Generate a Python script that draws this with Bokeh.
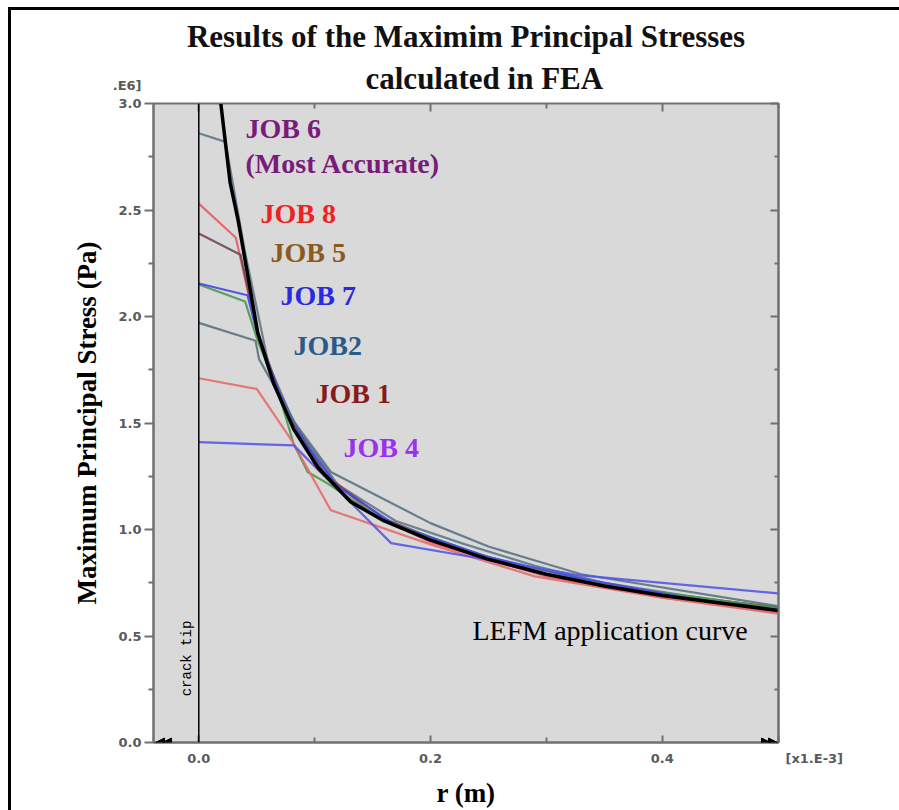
import math
from bokeh.plotting import figure
from bokeh.models import (Range1d, LinearAxis, FixedTicker, PrintfTickFormatter,
                          CustomJSTickFormatter, Label, Span, Arrow, NormalHead, Title)
from bokeh.embed import file_html
from bokeh.resources import INLINE

# ---------------- data (r in 1e-3 m, stress in 1e6 Pa) ----------------
lefm_r = [0.019, 0.027, 0.034, 0.043, 0.051, 0.065, 0.082, 0.103, 0.131, 0.16,
          0.20, 0.25, 0.30, 0.35, 0.40, 0.45, 0.50]
lefm_s = [3.00, 2.63, 2.45, 2.17, 1.92, 1.68, 1.47, 1.29, 1.13, 1.04,
          0.95, 0.86, 0.79, 0.735, 0.69, 0.655, 0.62]

job6_r = [0.0, 0.023, 0.040, 0.060, 0.083, 0.12, 0.17, 0.23, 0.29, 0.35, 0.42, 0.50]
job6_s = [2.86, 2.82, 2.30, 1.78, 1.49, 1.21, 1.04, 0.93, 0.83, 0.75, 0.69, 0.63]

job8_r = [0.0, 0.032, 0.050, 0.070, 0.100, 0.15, 0.20, 0.30, 0.40, 0.50]
job8_s = [2.53, 2.37, 1.93, 1.62, 1.31, 1.07, 0.94, 0.78, 0.68, 0.61]

job5_r = [0.0, 0.036, 0.050, 0.075, 0.110, 0.16, 0.22, 0.30, 0.40, 0.50]
job5_s = [2.39, 2.29, 1.94, 1.56, 1.25, 1.05, 0.92, 0.79, 0.695, 0.635]

job7_r = [0.0, 0.042, 0.050, 0.068, 0.090, 0.12, 0.17, 0.25, 0.33, 0.42, 0.50]
job7_s = [2.155, 2.10, 1.93, 1.66, 1.42, 1.20, 1.02, 0.87, 0.77, 0.68, 0.62]

job3_r = [0.0, 0.040, 0.050, 0.070, 0.082, 0.094, 0.11, 0.16, 0.25, 0.35, 0.50]
job3_s = [2.15, 2.07, 1.90, 1.62, 1.40, 1.27, 1.22, 1.04, 0.87, 0.74, 0.63]

job2_r = [0.0, 0.049, 0.052, 0.083, 0.114, 0.20, 0.25, 0.33, 0.50]
job2_s = [1.97, 1.886, 1.80, 1.50, 1.27, 1.03, 0.92, 0.79, 0.64]

job1_r = [0.0, 0.050, 0.080, 0.114, 0.20, 0.29, 0.40, 0.50]
job1_s = [1.71, 1.66, 1.42, 1.09, 0.93, 0.78, 0.68, 0.605]

job4_r = [0.0, 0.082, 0.166, 0.327, 0.50]
job4_s = [1.41, 1.395, 0.936, 0.786, 0.70]

job_labels = ["JOB 6", "(Most Accurate)", "JOB 8", "JOB 5", "JOB 7", "JOB2", "JOB 1", "JOB 4"]

y_ticks = [0.0, 0.5, 1.0, 1.5, 2.0, 2.5, 3.0]
y_minor = [0.25, 0.75, 1.25, 1.75, 2.25, 2.75]
x_ticks = [0.0, 0.2, 0.4, 0.5]
x_minor = [0.1, 0.3]
y_unit_text = ".E6]"
x_unit_text = "[x1.E-3]"

# ---------------- geometry (page pixels) ----------------
PAGE_W, PAGE_H = 899, 810
FL, FR, FT, FB = 153, 778, 103, 742
X0PX = 198.3
PXU_X = 1158.5
PXU_Y = (FB - FT) / 3.0


def X(px):
    return (px - X0PX) / PXU_X


def Y(py):
    return (FB - py) / PXU_Y


p = figure(width=PAGE_W, height=PAGE_H, output_backend="svg",
           toolbar_location=None,
           x_range=Range1d(X(FL), X(FR)), y_range=Range1d(0.0, 3.0),
           min_border_left=FL, min_border_right=PAGE_W - FR,
           min_border_top=FT, min_border_bottom=PAGE_H - FB,
           x_axis_type=None, y_axis_type=None)
# outer picture frame (left and top edges) painted behind a transparent canvas border
p.styles = {"background": "linear-gradient(#000, #000) 8px 7px / 3px 803px no-repeat, "
                          "linear-gradient(#000, #000) 8px 7px / 891px 3px no-repeat, "
                          "#ffffff"}
p.border_fill_color = None
p.title_location = None
p.background_fill_color = "#d9d9d9"
p.outline_line_color = "#707070"
p.outline_line_width = 2
p.xgrid.visible = False
p.ygrid.visible = False

SERIF = "Liberation Serif"
AXC = "#707070"
TLC = "#5a5a5a"

left = LinearAxis(ticker=FixedTicker(ticks=y_ticks, minor_ticks=y_minor),
                  formatter=PrintfTickFormatter(format="%.1f"),
                  axis_label="Maximum Principal Stress (Pa)")
left.major_label_overrides = {3.0: y_unit_text + "\n3.0\n\u00a0"}
left.axis_line_color = AXC
left.axis_line_width = 2
left.major_tick_line_color = AXC
left.major_tick_line_width = 2
left.minor_tick_line_color = AXC
left.minor_tick_line_width = 2
left.major_tick_in = 0
left.major_tick_out = 9
left.minor_tick_in = 0
left.minor_tick_out = 5
left.major_label_standoff = 3
left.major_label_text_font = "DejaVu Sans"
left.major_label_text_font_style = "bold"
left.major_label_text_font_size = "13px"
left.major_label_text_color = TLC
left.axis_label_text_font = SERIF
left.axis_label_text_font_style = "bold"
left.axis_label_text_font_size = "27px"
left.axis_label_text_color = "black"
left.axis_label_standoff = 8
p.add_layout(left, "left")

right = LinearAxis(ticker=FixedTicker(ticks=y_ticks, minor_ticks=y_minor),
                   formatter=CustomJSTickFormatter(code="return ''"))
right.axis_line_color = AXC
right.axis_line_width = 2
right.major_tick_line_color = AXC
right.major_tick_line_width = 2
right.minor_tick_line_color = AXC
right.minor_tick_line_width = 2
right.major_tick_in = 8
right.major_tick_out = 0
right.minor_tick_in = 4
right.minor_tick_out = 0
p.add_layout(right, "right")

bottom = LinearAxis(ticker=FixedTicker(ticks=x_ticks, minor_ticks=x_minor),
                    formatter=PrintfTickFormatter(format="%.1f"),
                    axis_label="r (m)")
bottom.major_label_overrides = {0.5: "\u00a0" * 16 + x_unit_text}
bottom.axis_line_color = AXC
bottom.axis_line_width = 2
bottom.major_tick_line_color = AXC
bottom.major_tick_line_width = 2
bottom.minor_tick_line_color = AXC
bottom.minor_tick_line_width = 2
bottom.major_tick_in = 7
bottom.major_tick_out = 0
bottom.minor_tick_in = 5
bottom.minor_tick_out = 0
bottom.major_label_standoff = 8
bottom.major_label_text_font = "DejaVu Sans"
bottom.major_label_text_font_style = "bold"
bottom.major_label_text_font_size = "13px"
bottom.major_label_text_color = TLC
bottom.axis_label_text_font = SERIF
bottom.axis_label_text_font_style = "bold"
bottom.axis_label_text_font_size = "27px"
bottom.axis_label_text_color = "black"
bottom.axis_label_standoff = 9
p.add_layout(bottom, "below")

top = LinearAxis(ticker=FixedTicker(ticks=[0.0, 0.2, 0.4], minor_ticks=[0.1, 0.3, 0.5]),
                 formatter=CustomJSTickFormatter(code="return ''"))
top.axis_line_color = AXC
top.axis_line_width = 1
top.major_tick_line_color = AXC
top.major_tick_line_width = 2
top.minor_tick_line_color = AXC
top.minor_tick_line_width = 2
top.major_tick_in = 8
top.major_tick_out = 0
top.minor_tick_in = 5
top.minor_tick_out = 0
top.major_label_standoff = 0
p.add_layout(top, "above")

# two-line title (first added sits nearest the frame)
p.add_layout(Title(text="calculated in FEA", align="left", offset=212, standoff=15,
                   text_font=SERIF, text_font_style="bold", text_font_size="31px",
                   text_color="#111111"), "above")
p.add_layout(Title(text="Results of the Maximim Principal Stresses", align="center",
                   standoff=-5, text_font=SERIF, text_font_style="bold",
                   text_font_size="31px", text_color="#111111"), "above")

# crack tip line
p.add_layout(Span(location=0.0, dimension="height", line_color="black", line_width=1.5))

# FEA job curves
series = [
    (job6_r, job6_s, "#5f7888"),
    (job8_r, job8_s, "#e85a66"),
    (job5_r, job5_s, "#6e4858"),
    (job3_r, job3_s, "#4a9a4a"),
    (job7_r, job7_s, "#4646e6"),
    (job2_r, job2_s, "#5a7282"),
    (job1_r, job1_s, "#e86a6a"),
    (job4_r, job4_s, "#5656e8"),
]
for rr, ss, col in series:
    p.line(rr, ss, line_color=col, line_width=2.2, line_alpha=0.9)

# LEFM curve
p.line(lefm_r, lefm_s, line_color="black", line_width=3.5)

# ---------------- annotations inside the frame ----------------
lab_px = [(245, 128), (245, 163), (260, 213), (270, 252), (280, 295),
          (293, 345), (315, 393), (343, 447)]
lab_col = ["#7a1a7a", "#7a1a7a", "#ee2222", "#8a5a20", "#2a2ae0",
           "#2a5a8a", "#8a1a1a", "#9a30f0"]
for txt, (px, py), col in zip(job_labels, lab_px, lab_col):
    p.add_layout(Label(x=X(px), y=Y(py), text=txt, text_align="left",
                       text_baseline="middle", text_font=SERIF,
                       text_font_style="bold", text_font_size="28px",
                       text_color=col))

p.add_layout(Label(x=X(472), y=Y(630), text="LEFM application curve",
                   text_align="left", text_baseline="middle", text_font=SERIF,
                   text_font_size="28px", text_color="black"))

p.add_layout(Label(x=X(186), y=Y(658), text="crack tip", angle=math.pi / 2,
                   text_align="center", text_baseline="middle",
                   text_font="Liberation Mono", text_font_size="14px",
                   text_color="black"))

# double arrowheads on the r axis
for tip, start in [(X(155), X(175)), (X(162), X(182))]:
    p.add_layout(Arrow(end=NormalHead(size=9, fill_color="black", line_color="black"),
                       x_start=start, y_start=0.0, x_end=tip, y_end=0.0,
                       line_alpha=0.0))
for tip, start in [(X(777), X(757)), (X(770), X(750))]:
    p.add_layout(Arrow(end=NormalHead(size=9, fill_color="black", line_color="black"),
                       x_start=start, y_start=0.0, x_end=tip, y_end=0.0,
                       line_alpha=0.0))

open("out.html", "w").write(file_html(p, INLINE))
